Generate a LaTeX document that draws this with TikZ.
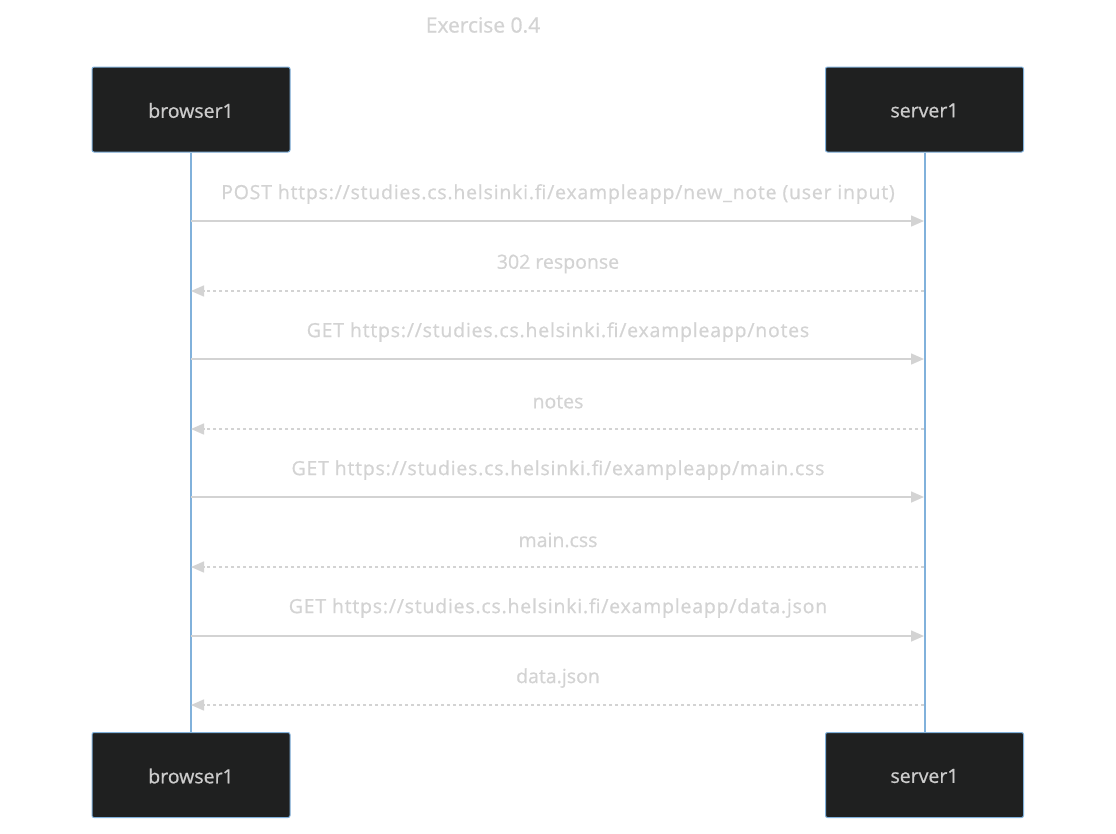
\documentclass[tikz,border=0pt]{standalone}
\usepackage{fontspec}
\setmainfont{Open Sans}
\newfontfamily\lbfont{Open Sans}[FakeBold=0.8]
\newfontfamily\urlfont{Open Sans}[FakeBold=0.8,LetterSpace=4]
\usetikzlibrary{arrows.meta}
\definecolor{boxfill}{HTML}{1F2020}
\definecolor{boxborder}{HTML}{81B1DB}
\definecolor{lifeline}{HTML}{81B1DB}
\definecolor{msgcol}{HTML}{D3D3D3}
\definecolor{txtcol}{HTML}{CCCCCC}
\begin{document}
\begin{tikzpicture}[x=1pt,y=-1pt,
  actor/.style={draw=boxborder, fill=boxfill, rounded corners=2pt, line width=1pt,
    minimum width=198pt, minimum height=85pt, text=txtcol, inner sep=0pt},
  atext/.style={text=txtcol, font=\lbfont\fontsize{19.5pt}{23pt}\selectfont, inner sep=0pt},
  msg/.style={draw=msgcol, line width=1.5pt, -{Triangle[length=13pt,width=11pt]}},
  reply/.style={msg, dash pattern=on 3pt off 3pt},
  lbl/.style={text=msgcol, font=\lbfont\fontsize{19.5pt}{23pt}\selectfont, inner sep=0pt},
  url/.style={lbl, font=\urlfont\fontsize{19.5pt}{23pt}\selectfont},
  life/.style={draw=lifeline, line width=2pt}]
\useasboundingbox (0,0) rectangle (1116,833);
\node[lbl, font=\lbfont\fontsize{21pt}{24pt}\selectfont] (title) at (483,25) {Exercise 0.4};
\node[actor] (b1) at (191,109.5) {};
\node[actor] (s1) at (924.5,109.5) {};
\node[actor] (b2) at (191,775) {};
\node[actor] (s2) at (924.5,775) {};
\node[atext] (b1t) at (191,110.5) {browser1};
\node[atext] (s1t) at (924.5,110.5) {server1};
\node[atext] (b2t) at (191,776) {browser1};
\node[atext] (s2t) at (924.5,776) {server1};
\draw[life] (b1.south) -- (b2.north);
\draw[life] (s1.south) -- (s2.north);
\foreach \i/\y in {1/221,2/291,3/359,4/429,5/497,6/567,7/636,8/705}{
  \coordinate (L\i) at (191,\y);
  \coordinate (R\i) at (924,\y);
}
\draw[msg] (L1) -- (R1);
\draw[reply] (R2) -- (L2);
\draw[msg] (L3) -- (R3);
\draw[reply] (R4) -- (L4);
\draw[msg] (L5) -- (R5);
\draw[reply] (R6) -- (L6);
\draw[msg] (L7) -- (R7);
\draw[reply] (R8) -- (L8);
\node[url] (m1) at (558,194) {POST https://studies.cs.helsinki.fi/exampleapp/new\_note (user input)};
\node[lbl] (m2) at (558,264) {302 response};
\node[url] (m3) at (558,332) {GET https://studies.cs.helsinki.fi/exampleapp/notes};
\node[lbl] (m4) at (558,402) {notes};
\node[url] (m5) at (558,470) {GET https://studies.cs.helsinki.fi/exampleapp/main.css};
\node[lbl] (m6) at (558,540) {main.css};
\node[url] (m7) at (558,608) {GET https://studies.cs.helsinki.fi/exampleapp/data.json};
\node[lbl] (m8) at (558,678) {data.json};
\end{tikzpicture}
\end{document}
